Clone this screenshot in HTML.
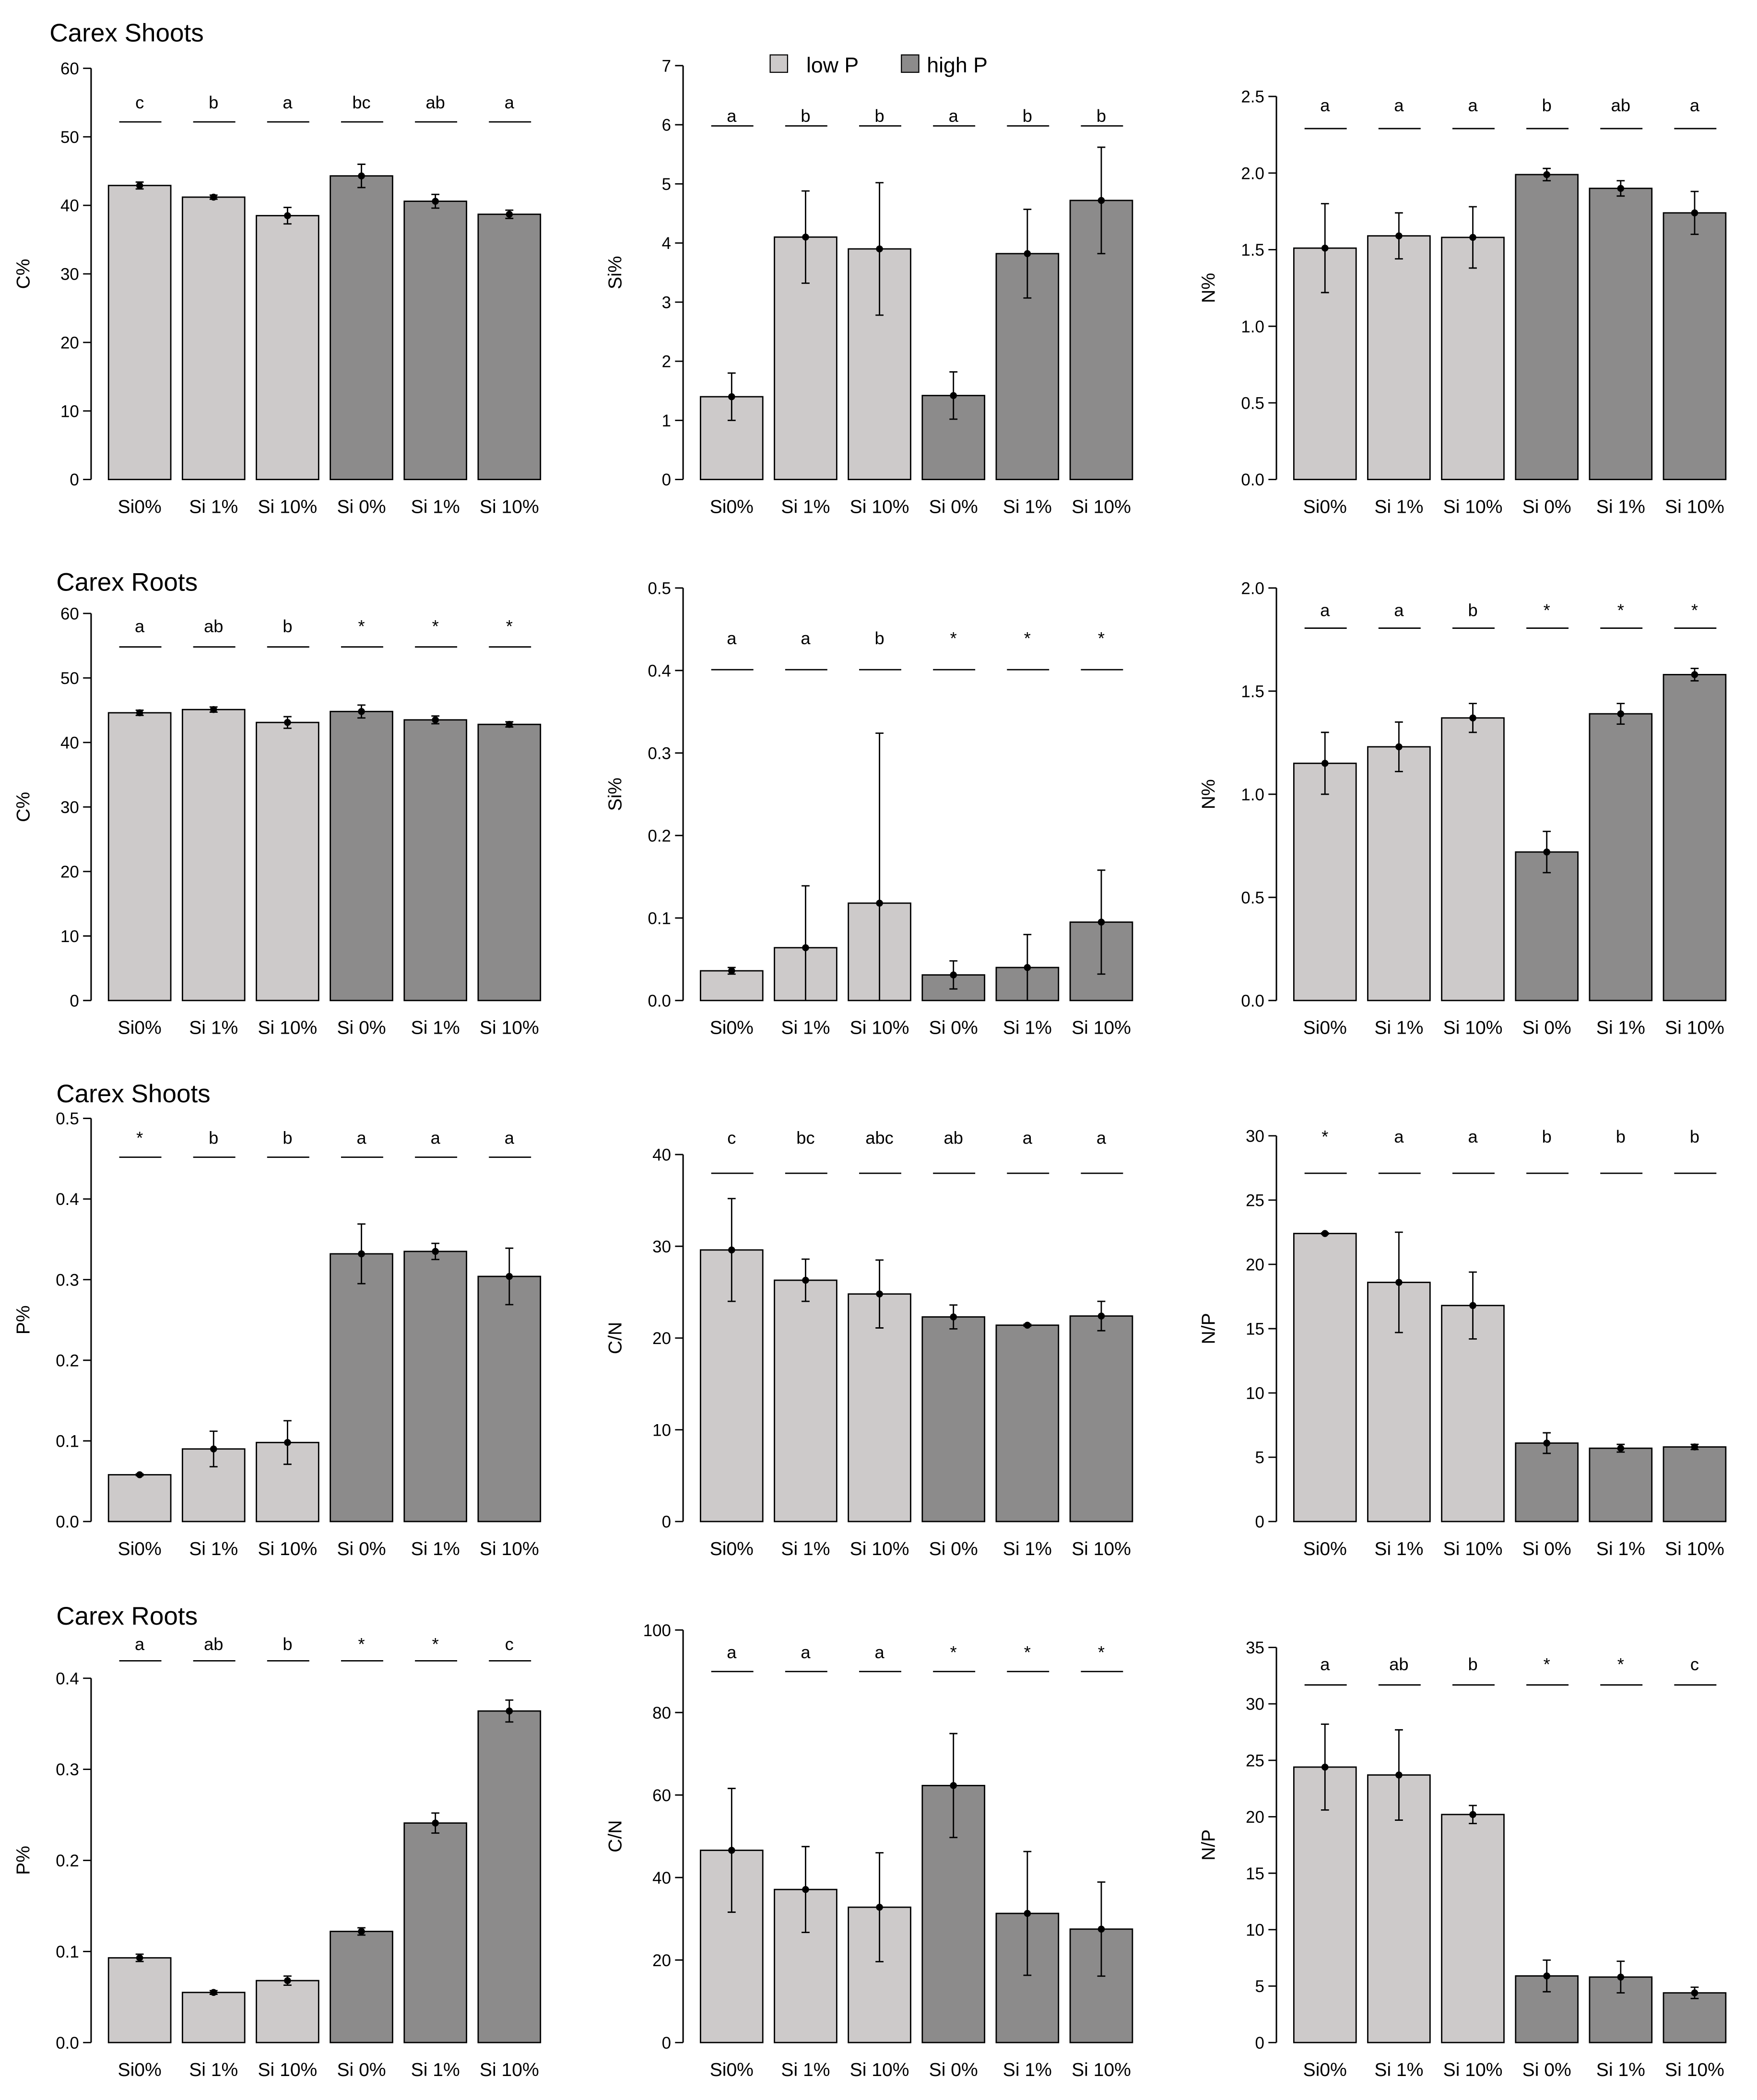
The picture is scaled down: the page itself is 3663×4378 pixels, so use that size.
<!DOCTYPE html>
<html><head><meta charset="utf-8">
<style>
html,body{margin:0;padding:0;background:#fff;}
svg{display:block;font-family:"Liberation Sans",Arial,sans-serif;}
</style></head>
<body>
<svg id="fig" width="3663" height="4378" viewBox="0 0 1311.8 1567.9" xmlns="http://www.w3.org/2000/svg">
<rect x="0" y="0" width="1311.8" height="1567.9" fill="#fff"/>
<g>
<rect x="575" y="41" width="13" height="13" fill="#cdcaca" stroke="#000" stroke-width="0.8"/>
<text x="602" y="54" font-size="16">low P</text>
<rect x="673" y="41" width="13" height="13" fill="#8c8b8b" stroke="#000" stroke-width="0.8"/>
<text x="692" y="54" font-size="16">high P</text>
</g>
<text x="37" y="31" font-size="19">Carex Shoots</text>
<text x="42" y="441" font-size="19">Carex Roots</text>
<text x="42" y="823" font-size="19">Carex Shoots</text>
<text x="42" y="1213" font-size="19">Carex Roots</text>
</svg>
<script>
const categories = ["Si0%","Si 1%","Si 10%","Si 0%","Si 1%","Si 10%"];
const r1p1Values = [42.9,41.2,38.5,44.3,40.6,38.7];
const r1p1Errors = [0.5,0.3,1.2,1.7,1.0,0.6];
const r1p1Letters = ["c","b","a","bc","ab","a"];
const r1p1Ticks = [0,10,20,30,40,50,60];
const r1p2Values = [1.4,4.1,3.9,1.42,3.82,4.72];
const r1p2Errors = [0.4,0.78,1.12,0.4,0.75,0.9];
const r1p2Letters = ["a","b","b","a","b","b"];
const r1p2Ticks = [0,1,2,3,4,5,6,7];
const r1p3Values = [1.51,1.59,1.58,1.99,1.9,1.74];
const r1p3Errors = [0.29,0.15,0.2,0.04,0.05,0.14];
const r1p3Letters = ["a","a","a","b","ab","a"];
const r1p3Ticks = [0,0.5,1,1.5,2,2.5];
const r2p1Values = [44.6,45.1,43.1,44.8,43.5,42.8];
const r2p1Errors = [0.4,0.4,0.9,1.0,0.6,0.4];
const r2p1Letters = ["a","ab","b","*","*","*"];
const r2p1Ticks = [0,10,20,30,40,50,60];
const r2p2Values = [0.036,0.064,0.118,0.031,0.04,0.095];
const r2p2Errors = [0.004,0.075,0.206,0.017,0.04,0.063];
const r2p2Letters = ["a","a","b","*","*","*"];
const r2p2Ticks = [0,0.1,0.2,0.3,0.4,0.5];
const r2p3Values = [1.15,1.23,1.37,0.72,1.39,1.58];
const r2p3Errors = [0.15,0.12,0.07,0.1,0.05,0.03];
const r2p3Letters = ["a","a","b","*","*","*"];
const r2p3Ticks = [0,0.5,1,1.5,2];
const r3p1Values = [0.058,0.09,0.098,0.332,0.335,0.304];
const r3p1Errors = [0.001,0.022,0.027,0.037,0.01,0.035];
const r3p1Letters = ["*","b","b","a","a","a"];
const r3p1Ticks = [0,0.1,0.2,0.3,0.4,0.5];
const r3p2Values = [29.6,26.3,24.8,22.3,21.4,22.4];
const r3p2Errors = [5.6,2.3,3.7,1.3,0.1,1.6];
const r3p2Letters = ["c","bc","abc","ab","a","a"];
const r3p2Ticks = [0,10,20,30,40];
const r3p3Values = [22.4,18.6,16.8,6.1,5.7,5.8];
const r3p3Errors = [0.05,3.9,2.6,0.8,0.3,0.2];
const r3p3Letters = ["*","a","a","b","b","b"];
const r3p3Ticks = [0,5,10,15,20,25,30];
const r4p1Values = [0.093,0.055,0.068,0.122,0.241,0.364];
const r4p1Errors = [0.004,0.002,0.005,0.004,0.011,0.012];
const r4p1Letters = ["a","ab","b","*","*","c"];
const r4p1Ticks = [0,0.1,0.2,0.3,0.4];
const r4p2Values = [46.6,37.1,32.8,62.3,31.3,27.5];
const r4p2Errors = [15,10.4,13.2,12.6,15,11.4];
const r4p2Letters = ["a","a","a","*","*","*"];
const r4p2Ticks = [0,20,40,60,80,100];
const r4p3Values = [24.4,23.7,20.2,5.9,5.8,4.4];
const r4p3Errors = [3.8,4,0.8,1.4,1.4,0.5];
const r4p3Letters = ["a","ab","b","*","*","c"];
const r4p3Ticks = [0,5,10,15,20,25,30,35];

const NS="http://www.w3.org/2000/svg";
const svg=document.getElementById('fig');
function mk(tag,attrs,parent){const e=document.createElementNS(NS,tag);for(const k in attrs)e.setAttribute(k,attrs[k]);(parent||svg).appendChild(e);return e;}

const panels=[
 {id:'r1-c',col:0,y0:358,yTopPx:51,vals:r1p1Values,errs:r1p1Errors,let:r1p1Letters,ticks:r1p1Ticks,lab:'C%',ly:76,lline:91,dec:0},
 {id:'r1-si',col:1,y0:358,yTopPx:49,vals:r1p2Values,errs:r1p2Errors,let:r1p2Letters,ticks:r1p2Ticks,lab:'Si%',ly:86,lline:94,dec:0},
 {id:'r1-n',col:2,y0:358,yTopPx:72,vals:r1p3Values,errs:r1p3Errors,let:r1p3Letters,ticks:r1p3Ticks,lab:'N%',ly:78,lline:96,dec:1},
 {id:'r2-c',col:0,y0:747,yTopPx:458,vals:r2p1Values,errs:r2p1Errors,let:r2p1Letters,ticks:r2p1Ticks,lab:'C%',ly:467,lline:483,dec:0},
 {id:'r2-si',col:1,y0:747,yTopPx:439,vals:r2p2Values,errs:r2p2Errors,let:r2p2Letters,ticks:r2p2Ticks,lab:'Si%',ly:476,lline:500,dec:1},
 {id:'r2-n',col:2,y0:747,yTopPx:439,vals:r2p3Values,errs:r2p3Errors,let:r2p3Letters,ticks:r2p3Ticks,lab:'N%',ly:455,lline:469,dec:1},
 {id:'r3-p',col:0,y0:1136,yTopPx:835,vals:r3p1Values,errs:r3p1Errors,let:r3p1Letters,ticks:r3p1Ticks,lab:'P%',ly:849,lline:864,dec:1},
 {id:'r3-cn',col:1,y0:1136,yTopPx:862,vals:r3p2Values,errs:r3p2Errors,let:r3p2Letters,ticks:r3p2Ticks,lab:'C/N',ly:849,lline:876,dec:0},
 {id:'r3-np',col:2,y0:1136,yTopPx:848,vals:r3p3Values,errs:r3p3Errors,let:r3p3Letters,ticks:r3p3Ticks,lab:'N/P',ly:848,lline:876,dec:0},
 {id:'r4-p',col:0,y0:1525,yTopPx:1253,vals:r4p1Values,errs:r4p1Errors,let:r4p1Letters,ticks:r4p1Ticks,lab:'P%',ly:1227,lline:1240,dec:1},
 {id:'r4-cn',col:1,y0:1525,yTopPx:1217,vals:r4p2Values,errs:r4p2Errors,let:r4p2Letters,ticks:r4p2Ticks,lab:'C/N',ly:1233,lline:1248,dec:0},
 {id:'r4-np',col:2,y0:1525,yTopPx:1230,vals:r4p3Values,errs:r4p3Errors,let:r4p3Letters,ticks:r4p3Ticks,lab:'N/P',ly:1242,lline:1258,dec:0}
];
const colOff=[0,442,885];
panels.forEach(p=>{
 const g=mk('g',{});
 
 
 const ox=colOff[p.col];
 const ax=68+ox;
 const tmax=p.ticks[p.ticks.length-1];
 const y=v=>p.y0-(v/tmax)*(p.y0-p.yTopPx);
 const bx=i=>81+ox+i*55.2;
 const bw=46.5;
 const axl=mk('line',{x1:ax,x2:ax,y1:y(0),y2:y(tmax),stroke:'#000','stroke-width':1.1},g);
 
 
 p.ticks.forEach(t=>{
  const tl=mk('line',{x1:ax-6,x2:ax,y1:y(t),y2:y(t),stroke:'#000','stroke-width':1},g);
  
  
  const tx=mk('text',{x:ax-9,y:y(t)+4.5,'font-size':12.5,'text-anchor':'end'},g);
  tx.textContent=p.dec?t.toFixed(1):String(t);
  
  
 });
 const yl=mk('text',{x:0,y:0,'font-size':14,'text-anchor':'middle',transform:`translate(${ax-46},${(y(0)+y(tmax))/2}) rotate(-90)`},g);
 yl.textContent=p.lab;
 
 
 p.vals.forEach((v,i)=>{
  const x=bx(i), cx=x+bw/2;
  const r=mk('rect',{x:x,y:y(v),width:bw,height:y(0)-y(v),fill:i<3?'#cdcaca':'#8c8b8b',stroke:'#000','stroke-width':1},g);
  
  
  const e=p.errs[i];
  const lo=Math.max(0,v-e);
  let d=`M${cx},${y(lo)}V${y(v+e)}M${cx-3},${y(v+e)}H${cx+3}`;
  if(v-e>0) d+=`M${cx-3},${y(lo)}H${cx+3}`;
  const el=mk('path',{d:d,stroke:'#000','stroke-width':1,fill:'none'},g);
  
  
  const dt=mk('circle',{cx:cx,cy:y(v),r:2.6,fill:'#000'},g);
  
  
  const xl=mk('text',{x:cx,y:y(0)+25,'font-size':14,'text-anchor':'middle'},g);
  xl.textContent=categories[i];
  
  
  const lt=mk('text',{x:cx,y:p.ly+5,'font-size':13,'text-anchor':'middle'},g);
  lt.textContent=p.let[i];
  
  
  const ll=mk('line',{x1:x+8,x2:x+bw-7,y1:p.lline,y2:p.lline,stroke:'#000','stroke-width':1},g);
  
  
 });
});
</script>
</body></html>
